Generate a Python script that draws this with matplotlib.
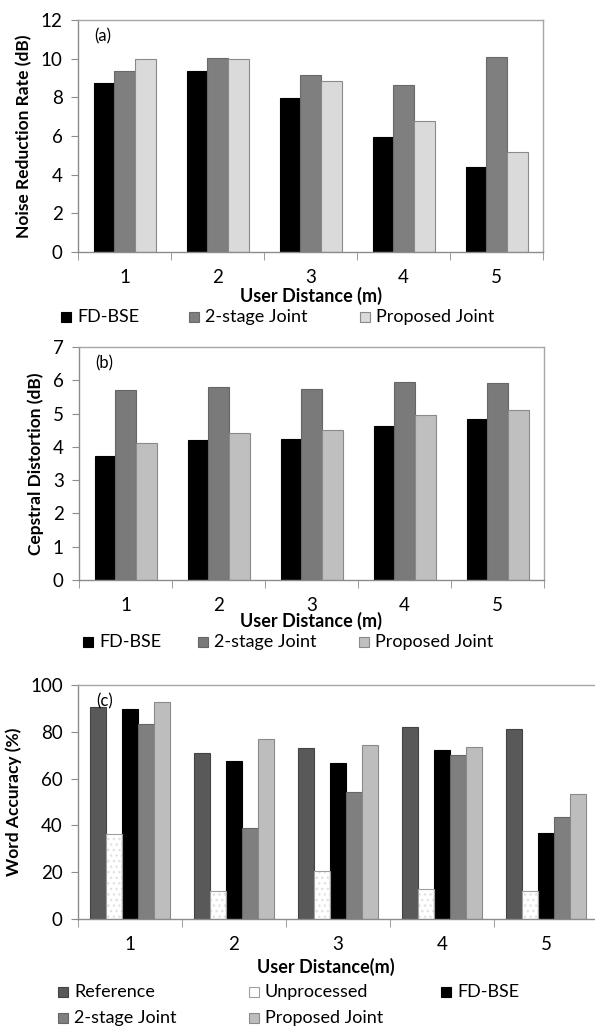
import matplotlib
matplotlib.use("Agg")
import matplotlib.pyplot as plt
from matplotlib.patches import Rectangle
import numpy as np

plt.rcParams['font.family'] = ['Lato', 'DejaVu Sans']

distances = ["1", "2", "3", "4", "5"]

# (a) noise reduction rate, dB
nrr_fdbse = [8.72, 9.34, 7.97, 5.94, 4.41]
nrr_2stage = [9.37, 10.05, 9.18, 8.66, 10.10]
nrr_proposed = [9.97, 9.97, 8.82, 6.77, 5.16]

# (b) cepstral distortion, dB
cd_fdbse = [3.72, 4.20, 4.24, 4.64, 4.84]
cd_2stage = [5.70, 5.79, 5.74, 5.96, 5.93]
cd_proposed = [4.12, 4.43, 4.52, 4.95, 5.10]

# (c) word accuracy, %
wa_reference = [90.4, 70.8, 73.2, 81.9, 81.3]
wa_unprocessed = [36.5, 12.0, 20.5, 12.7, 12.0]
wa_fdbse = [89.7, 67.5, 66.8, 72.3, 36.9]
wa_2stage = [83.3, 38.7, 54.1, 70.2, 43.4]
wa_proposed = [92.6, 76.9, 74.5, 73.3, 53.5]

W, H = 595, 1028
fig = plt.figure(figsize=(W / 100, H / 100), dpi=100)
FS = 13
border = "#a6a6a6"
axis_col = "#8c8c8c"


def box(l, t, r, b):
    return [l / W, 1 - b / H, (r - l) / W, (b - t) / H]


def setup(ax, ymax, ystep, ylabel, tag, xlabel, xlab_y):
    n = len(distances)
    ax.set_xlim(-0.5, n - 0.5)
    ax.set_ylim(0, ymax)
    ax.set_yticks(np.arange(0, ymax + 0.01, ystep))
    ax.set_xticks(range(n))
    ax.set_xticklabels(distances)
    ax.set_xticks(np.arange(-0.5, n, 1.0), minor=True)
    ax.tick_params(axis='x', which='major', length=0, pad=12, labelsize=FS + 0.5)
    ax.tick_params(axis='x', which='minor', length=6, color=axis_col, direction='out')
    ax.tick_params(axis='y', length=5, color=axis_col, direction='out', labelsize=FS + 0.5, pad=6)
    for s in ax.spines.values():
        s.set_color(border)
        s.set_linewidth(1.0)
    ax.spines['left'].set_color(axis_col)
    ax.spines['bottom'].set_color(axis_col)
    ax.set_ylabel(ylabel, fontsize=12.5, fontweight='bold', labelpad=6)
    pos = ax.get_position()
    fig.text(pos.x0 + pos.width / 2 if ax is not ax3 else 326 / W, 1 - xlab_y / H, xlabel,
             fontsize=FS, fontweight='bold', ha='center', va='center')
    ax.text(0.035, 0.93, tag, transform=ax.transAxes, fontsize=12, va='center', ha='left')


def bars(ax, series, colors, edges):
    n = len(series)
    width = 1.0 / (n + 1.5)
    x = np.arange(len(distances))
    for i, (vals, c, e) in enumerate(zip(series, colors, edges)):
        off = (i - (n - 1) / 2) * width
        if c == "white":
            ax.bar(x + off, vals, width, color="white", edgecolor="#e2e2e2",
                   hatch='...', linewidth=0, zorder=2)
            ax.bar(x + off, vals, width, color="none", edgecolor=e,
                   linewidth=0.8, zorder=3)
        else:
            ax.bar(x + off, vals, width, color=c, edgecolor=e, linewidth=0.8, zorder=2)


def legend(items, y):
    for label, c, e, x in items:
        fig.patches.append(Rectangle((x / W, 1 - (y + 5) / H), 10 / W, 10 / H,
                                     facecolor=c, edgecolor=e, linewidth=0.8,
                                     transform=fig.transFigure, figure=fig))
        fig.text((x + 16) / W, 1 - y / H, label, fontsize=FS, va='center', ha='left')


ax1 = fig.add_axes(box(78, 20, 543, 252))
ax2 = fig.add_axes(box(79, 347, 544, 580))
ax3 = fig.add_axes(box(78, 685, 598, 919))

# panel (a)
bars(ax1, [nrr_fdbse, nrr_2stage, nrr_proposed],
     ["black", "#7f7f7f", "#dadada"], ["black", "#6a6a6a", "#8a8a8a"])
setup(ax1, 12, 2, "Noise Reduction Rate (dB)", "(a)", "User Distance (m)", 296)
legend([("FD-BSE", "black", "black", 61),
        ("2-stage Joint", "#7f7f7f", "#6a6a6a", 189),
        ("Proposed Joint", "#dadada", "#8a8a8a", 360)], 317)

# panel (b)
bars(ax2, [cd_fdbse, cd_2stage, cd_proposed],
     ["black", "#7a7a7a", "#bfbfbf"], ["black", "#666666", "#8a8a8a"])
setup(ax2, 7, 1, "Cepstral Distortion (dB)", "(b)", "User Distance (m)", 621)
legend([("FD-BSE", "black", "black", 83),
        ("2-stage Joint", "#7a7a7a", "#666666", 198),
        ("Proposed Joint", "#bfbfbf", "#8a8a8a", 359)], 642)

# panel (c)
bars(ax3, [wa_reference, wa_unprocessed, wa_fdbse, wa_2stage, wa_proposed],
     ["#595959", "white", "black", "#7f7f7f", "#bdbdbd"],
     ["#444444", "#a0a0a0", "black", "#666666", "#8a8a8a"])
setup(ax3, 100, 20, "Word Accuracy (%)", "(c)", "User Distance(m)", 967)
ax3.spines['right'].set_visible(False)
legend([("Reference", "#595959", "#444444", 58),
        ("Unprocessed", "white", "#a0a0a0", 249),
        ("FD-BSE", "black", "black", 441)], 992)
legend([("2-stage Joint", "#7f7f7f", "#666666", 58),
        ("Proposed Joint", "#bdbdbd", "#8a8a8a", 249)], 1018)

fig.savefig("out.png", dpi=100)
